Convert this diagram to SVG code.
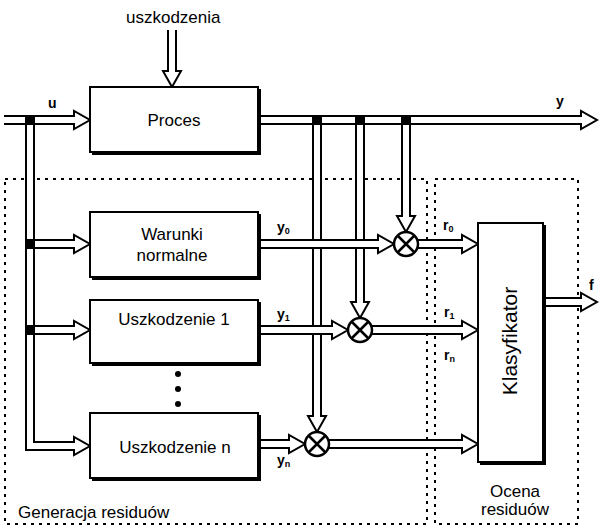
<svg xmlns="http://www.w3.org/2000/svg" width="599" height="530" viewBox="0 0 599 530">
<style>
.o{fill:none;stroke:#000;stroke-width:10;stroke-linejoin:miter}
.i{fill:none;stroke:#fff;stroke-width:6;stroke-linejoin:miter}
.bx{fill:#fff;stroke:#000;stroke-width:2}
.sh{fill:none;stroke:#000;stroke-width:4}
.dt{fill:none;stroke:#000;stroke-width:2;stroke-dasharray:3 5}
.jn{fill:#000}
.cx{fill:#fff;stroke:#000;stroke-width:2.5}
.xl{stroke:#000;stroke-width:2.5}
text{font-family:"Liberation Sans",Arial,sans-serif;fill:#000}
.t{font-size:17px}
.lb{font-size:14px;font-weight:bold}
.sub{font-size:9px;font-weight:bold}
</style>
<defs>
<marker id="ah" markerUnits="userSpaceOnUse" markerWidth="20" markerHeight="22" viewBox="-2 -11 20 22" refX="0" refY="0" orient="auto" overflow="visible">
<path d="M0,-3 L0,-9 L16,0 L0,9 L0,3" fill="#fff" stroke="#000" stroke-width="2"/>
</marker>
</defs>
<rect width="599" height="530" fill="#fff"/>

<g id="regions">
<rect class="dt" x="5" y="179" width="422" height="345"/>
<rect class="dt" x="435" y="179" width="143" height="345"/>
<text class="t" x="18" y="518">Generacja residuów</text>
<text class="t" x="515" y="497" text-anchor="middle">Ocena</text>
<text class="t" x="515" y="515" text-anchor="middle">residuów</text>
</g>

<g id="connectors">
<path class="o" d="M172,30 V71" marker-end="url(#ah)"/><path class="i" d="M172,30 V71"/>
<path class="o" d="M4,120 H74" marker-end="url(#ah)"/><path class="i" d="M4,120 H74"/>
<path class="o" d="M258,120 H581" marker-end="url(#ah)"/><path class="i" d="M258,120 H581"/>
<path class="o" d="M30,120 V446 H74" marker-end="url(#ah)"/><path class="i" d="M30,120 V446 H74"/>
<path class="o" d="M30,244 H74" marker-end="url(#ah)"/><path class="i" d="M34,244 H74"/>
<path class="o" d="M30,330 H74" marker-end="url(#ah)"/><path class="i" d="M34,330 H74"/>
<path class="o" d="M406,120 V216" marker-end="url(#ah)"/><path class="i" d="M406,124 V216"/>
<path class="o" d="M360,120 V302" marker-end="url(#ah)"/><path class="i" d="M360,124 V302"/>
<path class="o" d="M317,120 V416" marker-end="url(#ah)"/><path class="i" d="M317,124 V416"/>
<path class="o" d="M258,244 H378" marker-end="url(#ah)"/><path class="i" d="M258,244 H378"/>
<path class="o" d="M258,330 H332" marker-end="url(#ah)"/><path class="i" d="M258,330 H332"/>
<path class="o" d="M258,444 H289" marker-end="url(#ah)"/><path class="i" d="M258,444 H289"/>
<path class="o" d="M418,244 H462" marker-end="url(#ah)"/><path class="i" d="M418,244 H462"/>
<path class="o" d="M372,330 H462" marker-end="url(#ah)"/><path class="i" d="M372,330 H462"/>
<path class="o" d="M329,444 H462" marker-end="url(#ah)"/><path class="i" d="M329,444 H462"/>
<path class="o" d="M543,302 H581" marker-end="url(#ah)"/><path class="i" d="M543,302 H581"/>
<rect class="jn" x="25" y="115" width="10" height="10"/>
<rect class="jn" x="25" y="239" width="10" height="10"/>
<rect class="jn" x="25" y="325" width="10" height="10"/>
<rect class="jn" x="312" y="115" width="10" height="10"/>
<rect class="jn" x="355" y="115" width="10" height="10"/>
<rect class="jn" x="401" y="115" width="10" height="10"/>
<text class="t" x="126" y="23">uszkodzenia</text>
<text class="lb" x="48" y="108">u</text>
<text class="lb" x="556" y="106" font-size="15">y</text>
<text class="lb" x="589" y="290" font-size="15">f</text>
<text class="lb" x="277" y="232">y<tspan class="sub" dy="2">0</tspan></text>
<text class="lb" x="277" y="319">y<tspan class="sub" dy="2">1</tspan></text>
<text class="lb" x="277" y="465">y<tspan class="sub" dy="2">n</tspan></text>
<text class="lb" x="443" y="230">r<tspan class="sub" dy="2">0</tspan></text>
<text class="lb" x="444" y="317">r<tspan class="sub" dy="2">1</tspan></text>
<text class="lb" x="444" y="360">r<tspan class="sub" dy="2">n</tspan></text>
</g>

<g id="n-proces">
<rect class="bx" x="90" y="87" width="168" height="65"/>
<path class="sh" d="M259,89 V153 H92"/>
<text class="t" x="174" y="126" text-anchor="middle">Proces</text>
</g>
<g id="n-warunki">
<rect class="bx" x="90" y="212" width="168" height="65"/>
<path class="sh" d="M259,214 V278 H92"/>
<text class="t" x="172" y="240" text-anchor="middle">Warunki</text>
<text class="t" x="172" y="261" text-anchor="middle">normalne</text>
</g>
<g id="n-uszk1">
<rect class="bx" x="90" y="300" width="168" height="63"/>
<path class="sh" d="M259,302 V364 H92"/>
<text class="t" x="174" y="325" text-anchor="middle">Uszkodzenie 1</text>
</g>
<g id="n-dots">
<circle cx="178" cy="374" r="3"/>
<circle cx="178" cy="389" r="3"/>
<circle cx="178" cy="404" r="3"/>
</g>
<g id="n-uszkn">
<rect class="bx" x="90" y="413" width="168" height="65"/>
<path class="sh" d="M259,415 V479 H92"/>
<text class="t" x="175" y="453" text-anchor="middle">Uszkodzenie n</text>
</g>
<g id="n-klas">
<rect class="bx" x="478" y="223" width="65" height="239"/>
<path class="sh" d="M544,225 V463 H480"/>
<text x="0" y="0" font-size="21" text-anchor="middle" transform="translate(517,341) rotate(-90)">Klasyfikator</text>
</g>
<g id="n-c0">
<circle class="cx" cx="406" cy="244" r="12"/>
<path class="xl" d="M397.5,235.5 L414.5,252.5 M414.5,235.5 L397.5,252.5"/>
</g>
<g id="n-c1">
<circle class="cx" cx="360" cy="330" r="12"/>
<path class="xl" d="M351.5,321.5 L368.5,338.5 M368.5,321.5 L351.5,338.5"/>
</g>
<g id="n-cn">
<circle class="cx" cx="317" cy="444" r="12"/>
<path class="xl" d="M308.5,435.5 L325.5,452.5 M325.5,435.5 L308.5,452.5"/>
</g>
</svg>
